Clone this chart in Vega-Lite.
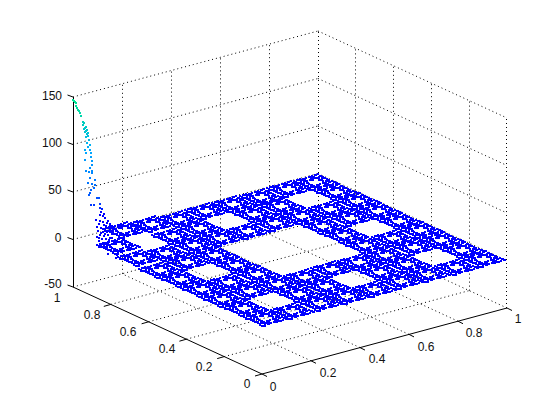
{"$schema":"https://vega.github.io/schema/vega-lite/v6.json","width":560,"height":420,"padding":0,"autosize":"none","background":"white","config":{"view":{"stroke":null}},
"datasets":{
"grid":[{"x":224.2,"y":356.6,"x2":469.2,"y2":290.6},{"x":186.4,"y":339.2,"x2":431.4,"y2":273.2},{"x":148.6,"y":321.8,"x2":393.6,"y2":255.8},{"x":110.8,"y":304.4,"x2":355.8,"y2":238.4},{"x":73,"y":287,"x2":318,"y2":221},
{"x":311,"y":360.8,"x2":122,"y2":273.8},{"x":360,"y":347.6,"x2":171,"y2":260.6},{"x":409,"y":334.4,"x2":220,"y2":247.4},{"x":458,"y":321.2,"x2":269,"y2":234.2},{"x":507,"y":308,"x2":318,"y2":221},
{"x":73,"y":239.5,"x2":318,"y2":173.5},{"x":73,"y":192,"x2":318,"y2":126},{"x":73,"y":144.5,"x2":318,"y2":78.5},{"x":73,"y":97,"x2":318,"y2":31},
{"x":318,"y":173.5,"x2":507,"y2":260.5},{"x":318,"y":126,"x2":507,"y2":213},{"x":318,"y":78.5,"x2":507,"y2":165.5},{"x":318,"y":31,"x2":507,"y2":118},
{"x":122.5,"y":273.8,"x2":122.5,"y2":83.8},{"x":171.5,"y":260.6,"x2":171.5,"y2":70.6},{"x":220.5,"y":247.4,"x2":220.5,"y2":57.4},{"x":269.5,"y":234.2,"x2":269.5,"y2":44.2},{"x":318.5,"y":221,"x2":318.5,"y2":31},
{"x":469.5,"y":290.6,"x2":469.5,"y2":100.6},{"x":431.5,"y":273.2,"x2":431.5,"y2":83.2},{"x":393.5,"y":255.8,"x2":393.5,"y2":65.8},{"x":355.5,"y":238.4,"x2":355.5,"y2":48.4},{"x":506.5,"y":308,"x2":506.5,"y2":118}],
"axes":[{"x":73.5,"y":97,"x2":73.5,"y2":287},{"x":73,"y":287,"x2":262,"y2":374},{"x":262,"y":374,"x2":507,"y2":308},
{"x":67.5,"y":95,"x2":73,"y2":97},{"x":67.5,"y":142.5,"x2":73,"y2":144.5},{"x":67.5,"y":190,"x2":73,"y2":192},{"x":67.5,"y":237.5,"x2":73,"y2":239.5},{"x":67.5,"y":285,"x2":73,"y2":287},
{"x":255,"y":376,"x2":262,"y2":374},{"x":217.2,"y":358.6,"x2":224.2,"y2":356.6},{"x":179.4,"y":341.2,"x2":186.4,"y2":339.2},{"x":141.6,"y":323.8,"x2":148.6,"y2":321.8},{"x":103.8,"y":306.4,"x2":110.8,"y2":304.4},
{"x":262,"y":374,"x2":267,"y2":376.5},{"x":311,"y":360.8,"x2":316,"y2":363.3},{"x":360,"y":347.6,"x2":365,"y2":350.1},{"x":409,"y":334.4,"x2":414,"y2":336.9},{"x":458,"y":321.2,"x2":463,"y2":323.7},{"x":507,"y":308,"x2":512,"y2":310.5}],
"tiles":[{"x":265,"y":318},{"x":292,"y":311},{"x":320,"y":303},{"x":347,"y":296},{"x":374,"y":289},{"x":401,"y":281},{"x":428,"y":274},{"x":456,"y":267},{"x":483,"y":259},
{"x":244,"y":308},{"x":299,"y":294},{"x":326,"y":286},{"x":380,"y":272},{"x":407,"y":264},{"x":462,"y":250},
{"x":223,"y":299},{"x":250,"y":291},{"x":278,"y":284},{"x":305,"y":277},{"x":332,"y":269},{"x":359,"y":262},{"x":386,"y":255},{"x":414,"y":247},{"x":441,"y":240},
{"x":202,"y":289},{"x":229,"y":282},{"x":257,"y":274},{"x":365,"y":245},{"x":393,"y":238},{"x":420,"y":230},
{"x":181,"y":279},{"x":236,"y":265},{"x":344,"y":235},{"x":399,"y":221},
{"x":160,"y":270},{"x":187,"y":262},{"x":215,"y":255},{"x":323,"y":226},{"x":351,"y":218},{"x":378,"y":211},
{"x":139,"y":258},{"x":166,"y":253},{"x":194,"y":245},{"x":221,"y":238},{"x":248,"y":231},{"x":275,"y":223},{"x":302,"y":216},{"x":330,"y":209},{"x":357,"y":201},
{"x":118,"y":246},{"x":173,"y":236},{"x":200,"y":228},{"x":254,"y":214},{"x":281,"y":206},{"x":336,"y":192},
{"x":124,"y":230},{"x":152,"y":224},{"x":179,"y":219},{"x":206,"y":211},{"x":233,"y":204},{"x":261,"y":197},{"x":288,"y":189},{"x":315,"y":182}],
"points":[{"x":73,"y":100,"z":147},{"x":74,"y":101,"z":146},{"x":75,"y":102,"z":145},{"x":76,"y":103,"z":144},{"x":76,"y":106,"z":141},{"x":77,"y":108,"z":139},{"x":78,"y":110,"z":137},{"x":79,"y":111,"z":136},{"x":80,"y":113,"z":134},{"x":81,"y":116,"z":131},{"x":83,"y":122,"z":124},{"x":84,"y":123,"z":123},{"x":83,"y":125,"z":121},{"x":85,"y":128,"z":118},{"x":84,"y":129,"z":117},{"x":86,"y":127,"z":119},{"x":87,"y":130,"z":116},{"x":86,"y":131,"z":115},{"x":85,"y":132,"z":114},{"x":88,"y":133,"z":113},{"x":87,"y":134,"z":112},{"x":88,"y":136,"z":109},{"x":86,"y":137,"z":108},{"x":89,"y":140,"z":105},{"x":87,"y":143,"z":102},{"x":90,"y":145,"z":100},{"x":88,"y":147,"z":98},{"x":85,"y":150,"z":95},{"x":90,"y":150,"z":95},{"x":86,"y":153,"z":92},{"x":91,"y":153,"z":92},{"x":91,"y":157,"z":88},{"x":85,"y":160,"z":84},{"x":92,"y":161,"z":83},{"x":92,"y":165,"z":79},{"x":90,"y":168,"z":76},{"x":86,"y":171,"z":73},{"x":92,"y":171,"z":73},{"x":89,"y":172,"z":72},{"x":92,"y":173,"z":70},{"x":90,"y":178,"z":65},{"x":95,"y":180,"z":63},{"x":88,"y":183,"z":60},{"x":92,"y":184,"z":59},{"x":95,"y":185,"z":58},{"x":94,"y":188,"z":55},{"x":91,"y":190,"z":53},{"x":90,"y":193,"z":50},{"x":89,"y":195,"z":48},{"x":97,"y":198,"z":44},{"x":99,"y":198,"z":44},{"x":91,"y":205,"z":37},{"x":94,"y":205,"z":37},{"x":100,"y":204,"z":38},{"x":100,"y":208,"z":34},{"x":102,"y":209,"z":33},{"x":101,"y":212,"z":30},{"x":104,"y":214,"z":27},{"x":100,"y":215,"z":26},{"x":103,"y":216,"z":25},{"x":105,"y":218,"z":23},{"x":96,"y":220,"z":20},{"x":100,"y":221,"z":20},{"x":108,"y":221,"z":20},{"x":107,"y":223,"z":18},{"x":110,"y":224,"z":17},{"x":112,"y":226,"z":15},{"x":99,"y":224,"z":17},{"x":104,"y":225,"z":16},{"x":97,"y":227,"z":14},{"x":101,"y":228,"z":13},{"x":105,"y":229,"z":12},{"x":109,"y":228,"z":12},{"x":114,"y":228,"z":12},{"x":118,"y":227,"z":10},{"x":98,"y":231,"z":9},{"x":103,"y":232,"z":8},{"x":107,"y":232,"z":8},{"x":111,"y":231,"z":9},{"x":116,"y":230,"z":10},{"x":100,"y":235,"z":5},{"x":104,"y":236,"z":4},{"x":108,"y":235,"z":5},{"x":112,"y":234,"z":6},{"x":97,"y":237,"z":3},{"x":102,"y":239,"z":1},{"x":106,"y":239,"z":1},{"x":110,"y":238,"z":2},{"x":99,"y":241,"z":0},{"x":104,"y":243,"z":0},{"x":108,"y":242,"z":0},{"x":101,"y":245,"z":0},{"x":106,"y":247,"z":0},{"x":103,"y":222,"z":18},{"x":106,"y":226,"z":14},{"x":110,"y":226,"z":14},{"x":113,"y":232,"z":8},{"x":101,"y":233,"z":7},{"x":105,"y":234,"z":6},{"x":109,"y":240,"z":0},{"x":112,"y":238,"z":2},{"x":112,"y":244,"z":0},{"x":103,"y":247,"z":0},{"x":109,"y":250,"z":0},{"x":113,"y":252,"z":0},{"x":117,"y":255,"z":0},{"x":120,"y":258,"z":0},{"x":115,"y":250,"z":0},{"x":106,"y":244,"z":0},{"x":99,"y":238,"z":2},{"x":111,"y":247,"z":0},{"x":116,"y":258,"z":0},{"x":108,"y":254,"z":0}],
"labels":[{"x":52,"y":96,"t":"150"},{"x":52,"y":143,"t":"100"},{"x":55,"y":190,"t":"50"},{"x":58,"y":238,"t":"0"},{"x":53,"y":284,"t":"-50"},
{"x":57,"y":298,"t":"1"},{"x":92,"y":315,"t":"0.8"},{"x":128,"y":332,"t":"0.6"},{"x":167,"y":349,"t":"0.4"},{"x":204,"y":367,"t":"0.2"},{"x":247,"y":384,"t":"0"},
{"x":273,"y":387,"t":"0"},{"x":328,"y":373,"t":"0.2"},{"x":377,"y":359,"t":"0.4"},{"x":426,"y":347,"t":"0.6"},{"x":474,"y":333,"t":"0.8"},{"x":518,"y":319,"t":"1"}]
},
"layer":[
{"data":{"name":"grid"},"mark":{"type":"rule","color":"#000","strokeWidth":1,"strokeDash":[1,3]},"encoding":{"x":{"field":"x","type":"quantitative","scale":{"domain":[0,560],"nice":false,"zero":false},"axis":null},"y":{"field":"y","type":"quantitative","scale":{"domain":[420,0],"nice":false,"zero":false},"axis":null},"x2":{"field":"x2"},"y2":{"field":"y2"}}},
{"data":{"name":"axes"},"mark":{"type":"rule","color":"#000","strokeWidth":1},"encoding":{"x":{"field":"x","type":"quantitative","axis":null},"y":{"field":"y","type":"quantitative","axis":null},"x2":{"field":"x2"},"y2":{"field":"y2"}}},
{"data":{"name":"tiles"},"mark":{"type":"point","filled":true,"opacity":1,"color":"#0000ff","size":4,"shape":"M-4 7h3v2h-3zM-1 6h2v3h-2zM2 5h3v2h-3zM5 4h2v2h-2zM8 3h3v2h-3zM11 2h2v3h-2zM14 2h3v2h-3zM17 1h2v2h-2zM20 0h3v2h-3zM-6 5h2v3h-2zM0 4h3v2h-3zM3 3h2v2h-2zM9 1h3v2h-3zM12 1h2v3h-2zM18 -1h3v2h-3zM-8 4h2v2h-2zM-5 4h3v2h-3zM-2 3h2v3h-2zM1 2h3v2h-3zM4 1h2v2h-2zM7 0h3v2h-3zM10 0h2v3h-2zM13 -1h3v2h-3zM16 -2h2v2h-2zM-11 3h3v2h-3zM-8 3h2v3h-2zM-5 2h3v2h-3zM7 -2h2v2h-2zM10 -2h3v2h-3zM13 -3h2v3h-2zM-13 2h3v2h-3zM-7 1h2v2h-2zM5 -3h3v2h-3zM11 -4h2v3h-2zM-15 1h3v2h-3zM-12 0h2v2h-2zM-9 0h3v2h-3zM3 -4h2v3h-2zM6 -5h3v2h-3zM9 -5h2v2h-2zM-18 0h3v2h-3zM-15 -1h2v3h-2zM-12 -2h3v2h-3zM-9 -2h2v2h-2zM-6 -3h3v2h-3zM-3 -4h2v3h-2zM0 -5h3v2h-3zM3 -6h2v2h-2zM6 -6h3v2h-3zM-20 -1h2v3h-2zM-14 -3h3v2h-3zM-11 -3h2v2h-2zM-5 -5h3v2h-3zM-2 -6h2v3h-2zM4 -7h3v2h-3zM-22 -2h2v2h-2zM-19 -3h3v2h-3zM-16 -4h2v3h-2zM-13 -4h3v2h-3zM-10 -5h2v2h-2zM-7 -6h3v2h-3zM-4 -7h2v3h-2zM-1 -8h3v2h-3zM2 -9h2v2h-2z"},"encoding":{"x":{"field":"x","type":"quantitative","axis":null},"y":{"field":"y","type":"quantitative","axis":null}}},
{"data":{"name":"points"},"mark":{"type":"square","filled":true,"opacity":1,"size":4},"encoding":{"x":{"field":"x","type":"quantitative","axis":null},"y":{"field":"y","type":"quantitative","axis":null},"color":{"field":"z","type":"quantitative","legend":null,"scale":{"domain":[30,150],"range":["#0000ff","#00e890"],"clamp":true}}}},
{"data":{"name":"labels"},"mark":{"type":"text","font":"Liberation Sans","fontSize":12,"color":"#111","align":"center","baseline":"middle"},"encoding":{"x":{"field":"x","type":"quantitative","axis":null},"y":{"field":"y","type":"quantitative","axis":null},"text":{"field":"t"}}}
]}
